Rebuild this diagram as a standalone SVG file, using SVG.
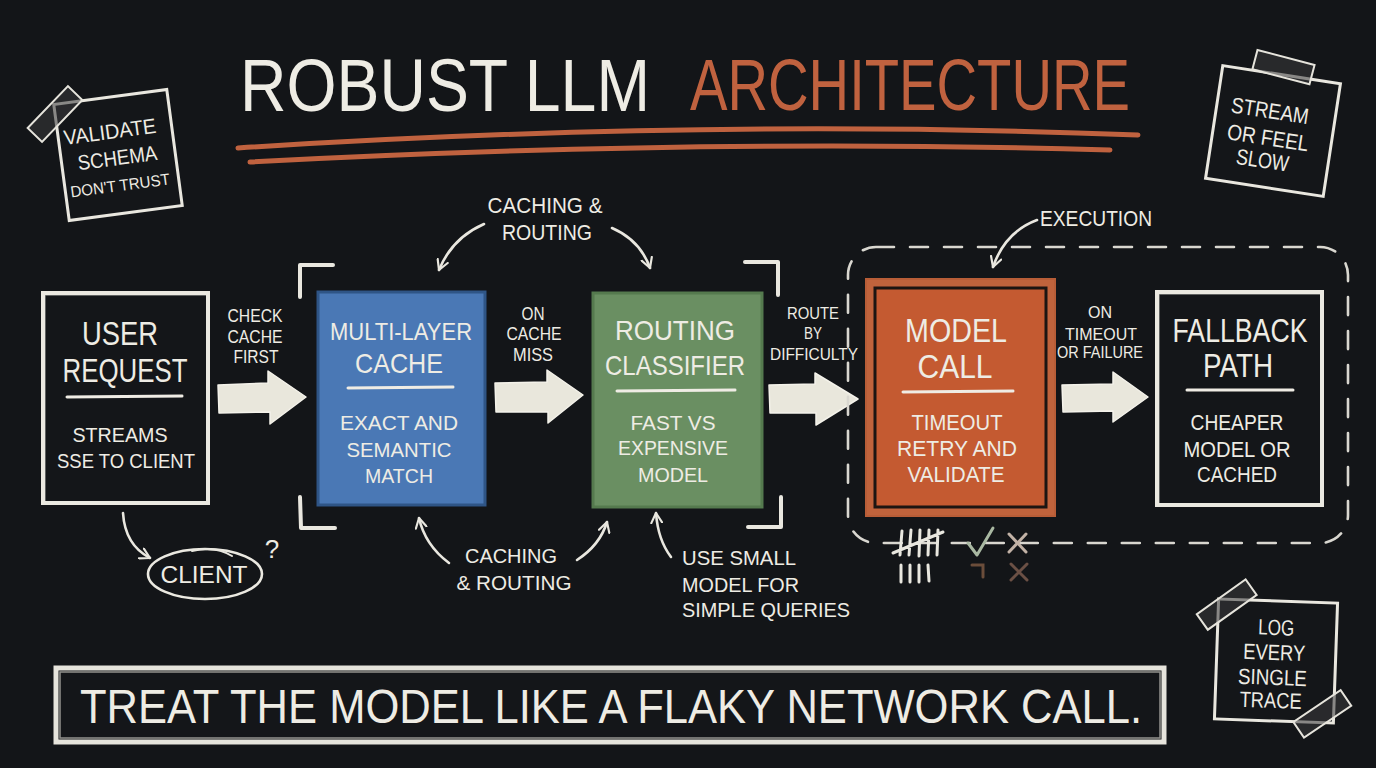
<svg xmlns="http://www.w3.org/2000/svg" width="1376" height="768" viewBox="0 0 1376 768">
<defs>
<style>
.t{font-family:"Liberation Sans",Arial,sans-serif;fill:#eeece4;text-anchor:middle;}
.ln{fill:none;stroke:#e9e7df;stroke-linecap:round;stroke-linejoin:round;}
.cv{fill:none;stroke:#e9e7df;stroke-width:2.6;stroke-linecap:round;marker-end:url(#ah);}
.blk{fill:#e9e7dc;stroke:#f4f2ea;stroke-width:1.5;stroke-linejoin:round;}
.tape{fill:#3a3b3d;fill-opacity:0.55;stroke:#e6e4dc;stroke-width:2;}
.note{fill:#141619;stroke:#e9e7df;stroke-width:3;}
.div{stroke:#efece4;stroke-width:3;stroke-linecap:round;}
</style>
<marker id="ah" viewBox="0 0 12 12" refX="10" refY="6" markerWidth="13" markerHeight="13" markerUnits="userSpaceOnUse" orient="auto">
<path d="M1,1 L10,6 L1,11" fill="none" stroke="#e9e7df" stroke-width="2" stroke-linecap="round" stroke-linejoin="round"/>
</marker>
</defs>
<rect width="1376" height="768" fill="#131518"/>

<!-- Title -->
<g id="title">
<text class="t" x="445" y="111" font-size="74" textLength="410" lengthAdjust="spacingAndGlyphs" style="fill:#eeece4">ROBUST LLM</text>
<text class="t" x="910" y="110" font-size="72" textLength="440" lengthAdjust="spacingAndGlyphs" style="fill:#c0623f">ARCHITECTURE</text>
<path d="M238,148 Q700,118 1138,135" fill="none" stroke="#c0623f" stroke-width="5" stroke-linecap="round"/>
<path d="M250,162 Q700,138 1110,150" fill="none" stroke="#c0623f" stroke-width="5" stroke-linecap="round"/>
</g>

<!-- Sticky notes -->
<g id="note-validate">
<g transform="rotate(-7.6 118 155)">
<rect class="note" x="61" y="96.5" width="114" height="117"/>
<text class="t" x="113" y="138" font-size="21" textLength="93" lengthAdjust="spacingAndGlyphs">VALIDATE</text>
<text class="t" x="117" y="165" font-size="21" textLength="80" lengthAdjust="spacingAndGlyphs">SCHEMA</text>
<text class="t" x="116" y="191" font-size="16" textLength="100" lengthAdjust="spacingAndGlyphs">DON'T TRUST</text>
</g>
<rect class="tape" x="26" y="104" width="58" height="20" transform="rotate(-46 55 114)"/>
</g>

<g id="note-stream">
<g transform="rotate(8.7 1273 131)">
<rect class="note" x="1213.5" y="74" width="119" height="114"/>
<text class="t" x="1267" y="119" font-size="22" textLength="78" lengthAdjust="spacingAndGlyphs">STREAM</text>
<text class="t" x="1269" y="146" font-size="22" textLength="82" lengthAdjust="spacingAndGlyphs">OR FEEL</text>
<text class="t" x="1267" y="169" font-size="22" textLength="53" lengthAdjust="spacingAndGlyphs">SLOW</text>
</g>
<rect class="tape" x="1254" y="57" width="59" height="20" transform="rotate(14.7 1283 67)"/>
</g>

<g id="note-log">
<g transform="rotate(2 1276 661)">
<rect class="note" x="1216.5" y="601" width="119" height="120"/>
<text class="t" x="1275" y="635" font-size="22" textLength="36" lengthAdjust="spacingAndGlyphs">LOG</text>
<text class="t" x="1274" y="660" font-size="22" textLength="62" lengthAdjust="spacingAndGlyphs">EVERY</text>
<text class="t" x="1273" y="685" font-size="22" textLength="69" lengthAdjust="spacingAndGlyphs">SINGLE</text>
<text class="t" x="1272" y="708" font-size="22" textLength="62" lengthAdjust="spacingAndGlyphs">TRACE</text>
</g>
<rect class="tape" x="1197" y="595" width="60" height="19" transform="rotate(-35.5 1227 605)"/>
<rect class="tape" x="1294" y="704" width="57" height="19" transform="rotate(-34 1323 714)"/>
</g>

<!-- Connectors -->
<g id="connectors">
<polygon class="blk" points="218,385 268,383 268,371 306,397 270,424 270,412 219,413"/>
<polygon class="blk" points="495,383 547,382 547,370 583,395 548,423 548,412 496,412"/>
<polygon class="blk" points="769,385 815,384 815,373 858,399 816,425 816,413 770,413"/>
<polygon class="blk" points="1062,385 1113,384 1113,372 1148,397 1113,422 1113,411 1063,412"/>
<path class="cv" d="M484,224 Q452,238 439,270"/>
<path class="cv" d="M612,228 Q640,240 650,268"/>
<path class="cv" d="M449,563 Q425,545 419,518"/>
<path class="cv" d="M577,560 Q600,545 607,522"/>
<path class="cv" d="M671,557 Q658,540 656,513"/>
<path class="cv" d="M1037,220 Q1005,232 993,267"/>
<path class="cv" d="M123,513 Q125,545 150,558"/>
</g>

<!-- Edge labels -->
<g id="labels">
<text class="t" x="255" y="322" font-size="18" textLength="55" lengthAdjust="spacingAndGlyphs">CHECK</text>
<text class="t" x="255" y="343" font-size="18" textLength="55" lengthAdjust="spacingAndGlyphs">CACHE</text>
<text class="t" x="256" y="363" font-size="18" textLength="45" lengthAdjust="spacingAndGlyphs">FIRST</text>
<text class="t" x="533" y="320" font-size="18" textLength="23" lengthAdjust="spacingAndGlyphs">ON</text>
<text class="t" x="534" y="340" font-size="18" textLength="55" lengthAdjust="spacingAndGlyphs">CACHE</text>
<text class="t" x="533" y="361" font-size="18" textLength="40" lengthAdjust="spacingAndGlyphs">MISS</text>
<text class="t" x="813" y="319" font-size="17" textLength="52" lengthAdjust="spacingAndGlyphs">ROUTE</text>
<text class="t" x="813" y="339" font-size="17" textLength="18" lengthAdjust="spacingAndGlyphs">BY</text>
<text class="t" x="814" y="360" font-size="17" textLength="88" lengthAdjust="spacingAndGlyphs">DIFFICULTY</text>
<text class="t" x="1100" y="318" font-size="17" textLength="24" lengthAdjust="spacingAndGlyphs">ON</text>
<text class="t" x="1101" y="340" font-size="17" textLength="72" lengthAdjust="spacingAndGlyphs">TIMEOUT</text>
<text class="t" x="1100" y="358" font-size="17" textLength="86" lengthAdjust="spacingAndGlyphs">OR FAILURE</text>
<text class="t" x="545" y="213" font-size="22" textLength="115" lengthAdjust="spacingAndGlyphs">CACHING &amp;</text>
<text class="t" x="547" y="240" font-size="22" textLength="90" lengthAdjust="spacingAndGlyphs">ROUTING</text>
<text class="t" x="511" y="563" font-size="21" textLength="92" lengthAdjust="spacingAndGlyphs">CACHING</text>
<text class="t" x="514" y="590" font-size="21" textLength="115" lengthAdjust="spacingAndGlyphs">&amp; ROUTING</text>
<text class="t" x="682" y="565" font-size="21" textLength="114" lengthAdjust="spacingAndGlyphs" style="text-anchor:start">USE SMALL</text>
<text class="t" x="682" y="592" font-size="21" textLength="117" lengthAdjust="spacingAndGlyphs" style="text-anchor:start">MODEL FOR</text>
<text class="t" x="682" y="617" font-size="21" textLength="168" lengthAdjust="spacingAndGlyphs" style="text-anchor:start">SIMPLE QUERIES</text>
<text class="t" x="1096" y="226" font-size="22" textLength="112" lengthAdjust="spacingAndGlyphs">EXECUTION</text>
</g>

<!-- Corner brackets -->
<g id="brackets" class="ln" stroke-width="4">
<path class="ln" stroke-width="4" d="M333,265 L300,265 L300,297"/>
<path class="ln" stroke-width="4" d="M300,497 L301,528 L335,528"/>
<path class="ln" stroke-width="4" d="M745,262 L778,262 L778,295"/>
<path class="ln" stroke-width="4" d="M781,497 L781,527 L748,527"/>
</g>

<!-- Execution group -->
<g id="execution-group">
<rect x="848" y="247" width="500" height="296" rx="28" fill="none" stroke="#d9d7d0" stroke-width="2.6" stroke-dasharray="18 16" stroke-linecap="round"/>
</g>

<!-- Nodes -->
<g id="user-request">
<rect x="43" y="293" width="165" height="210" fill="#141619" stroke="#ebe9e1" stroke-width="4"/>
<rect x="45" y="295" width="162" height="207" fill="none" stroke="#ebe9e1" stroke-width="1.2" opacity="0.6"/>
<text class="t" x="120" y="345" font-size="33" textLength="76" lengthAdjust="spacingAndGlyphs">USER</text>
<text class="t" x="125" y="382" font-size="33" textLength="125" lengthAdjust="spacingAndGlyphs">REQUEST</text>
<line class="div" x1="67" y1="397" x2="182" y2="396"/>
<text class="t" x="120" y="442" font-size="21" textLength="95" lengthAdjust="spacingAndGlyphs">STREAMS</text>
<text class="t" x="126" y="468" font-size="21" textLength="138" lengthAdjust="spacingAndGlyphs">SSE TO CLIENT</text>
</g>

<g id="client">
<ellipse cx="205" cy="574" rx="57" ry="25" fill="none" stroke="#ebe9e1" stroke-width="2.6"/>
<path class="ln" stroke-width="2" d="M192,551 Q215,545 232,556"/>
<text class="t" x="204" y="583" font-size="24" textLength="87" lengthAdjust="spacingAndGlyphs">CLIENT</text>
<text class="t" x="272" y="558" font-size="26">?</text>
</g>

<g id="cache">
<rect x="318" y="292" width="167" height="213" fill="#4a78b5" stroke="#2f5586" stroke-width="3"/>
<text class="t" x="401" y="340" font-size="23" textLength="142" lengthAdjust="spacingAndGlyphs">MULTI-LAYER</text>
<text class="t" x="399" y="373" font-size="28" textLength="88" lengthAdjust="spacingAndGlyphs">CACHE</text>
<line class="div" x1="348" y1="388" x2="453" y2="387"/>
<text class="t" x="399" y="430" font-size="21" textLength="118" lengthAdjust="spacingAndGlyphs">EXACT AND</text>
<text class="t" x="399" y="457" font-size="21" textLength="105" lengthAdjust="spacingAndGlyphs">SEMANTIC</text>
<text class="t" x="399" y="483" font-size="21" textLength="68" lengthAdjust="spacingAndGlyphs">MATCH</text>
</g>

<g id="routing">
<rect x="593" y="293" width="169" height="214" fill="#6a8f62" stroke="#557a4e" stroke-width="3"/>
<text class="t" x="675" y="340" font-size="28" textLength="120" lengthAdjust="spacingAndGlyphs">ROUTING</text>
<text class="t" x="675" y="375" font-size="28" textLength="140" lengthAdjust="spacingAndGlyphs">CLASSIFIER</text>
<line class="div" x1="617" y1="391" x2="735" y2="390"/>
<text class="t" x="673" y="430" font-size="21" textLength="85" lengthAdjust="spacingAndGlyphs">FAST VS</text>
<text class="t" x="673" y="455" font-size="21" textLength="110" lengthAdjust="spacingAndGlyphs">EXPENSIVE</text>
<text class="t" x="673" y="482" font-size="21" textLength="70" lengthAdjust="spacingAndGlyphs">MODEL</text>
</g>

<g id="model-call">
<rect x="866" y="279" width="189" height="237" fill="#c0633c" stroke="#b85d37" stroke-width="2"/>
<rect x="875" y="288" width="171" height="219" fill="#c45a31" stroke="#1c1512" stroke-width="3"/>
<text class="t" x="956" y="342" font-size="33" textLength="102" lengthAdjust="spacingAndGlyphs">MODEL</text>
<text class="t" x="955" y="378" font-size="33" textLength="75" lengthAdjust="spacingAndGlyphs">CALL</text>
<line class="div" x1="903" y1="392" x2="1013" y2="391"/>
<text class="t" x="957" y="430" font-size="22" textLength="91" lengthAdjust="spacingAndGlyphs">TIMEOUT</text>
<text class="t" x="957" y="456" font-size="22" textLength="120" lengthAdjust="spacingAndGlyphs">RETRY AND</text>
<text class="t" x="956" y="482" font-size="22" textLength="97" lengthAdjust="spacingAndGlyphs">VALIDATE</text>
</g>

<g id="fallback">
<rect x="1157" y="292" width="165" height="213" fill="#141619" stroke="#ebe9e1" stroke-width="4"/>
<rect x="1159" y="294" width="162" height="210" fill="none" stroke="#ebe9e1" stroke-width="1.2" opacity="0.6"/>
<text class="t" x="1240" y="342" font-size="33" textLength="135" lengthAdjust="spacingAndGlyphs">FALLBACK</text>
<text class="t" x="1238" y="377" font-size="33" textLength="70" lengthAdjust="spacingAndGlyphs">PATH</text>
<line class="div" x1="1187" y1="390" x2="1293" y2="390"/>
<text class="t" x="1237" y="430" font-size="22" textLength="93" lengthAdjust="spacingAndGlyphs">CHEAPER</text>
<text class="t" x="1237" y="457" font-size="22" textLength="107" lengthAdjust="spacingAndGlyphs">MODEL OR</text>
<text class="t" x="1237" y="482" font-size="22" textLength="80" lengthAdjust="spacingAndGlyphs">CACHED</text>
</g>

<!-- Tally marks -->
<g id="tally">
<g class="ln" stroke-width="3">
<path class="ln" stroke-width="3" d="M902,531 L900,555 M911,530 L909,555 M920,530 L919,556 M929,530 L928,555 M938,530 L937,555 M893,553 L943,532"/>
<path class="ln" stroke-width="3" d="M901,565 L901,582 M910,565 L910,582 M919,565 L919,582 M928,565 L929,581"/>
</g>
<path d="M968,543 L977,555 L993,528" fill="none" stroke="#a9b8a2" stroke-width="3" stroke-linecap="round" stroke-linejoin="round"/>
<path d="M1009,534 L1026,552 M1026,534 L1009,552" fill="none" stroke="#c2b2a6" stroke-width="3" stroke-linecap="round"/>
<path d="M972,565 L983,565 L983,577" fill="none" stroke="#6b4d3a" stroke-width="3" stroke-linecap="round"/>
<path d="M1011,564 L1027,580 M1027,564 L1011,580" fill="none" stroke="#6b5045" stroke-width="3" stroke-linecap="round"/>
</g>

<!-- Bottom banner -->
<g id="banner">
<rect x="56" y="668" width="1108" height="74" fill="#141619" stroke="#e6e4dc" stroke-width="5"/>
<rect x="60" y="672" width="1100" height="66" fill="none" stroke="#e6e4dc" stroke-width="1.5" opacity="0.6"/>
<text class="t" x="611" y="723" font-size="48" textLength="1062" lengthAdjust="spacingAndGlyphs">TREAT THE MODEL LIKE A FLAKY NETWORK CALL.</text>
</g>
</svg>
